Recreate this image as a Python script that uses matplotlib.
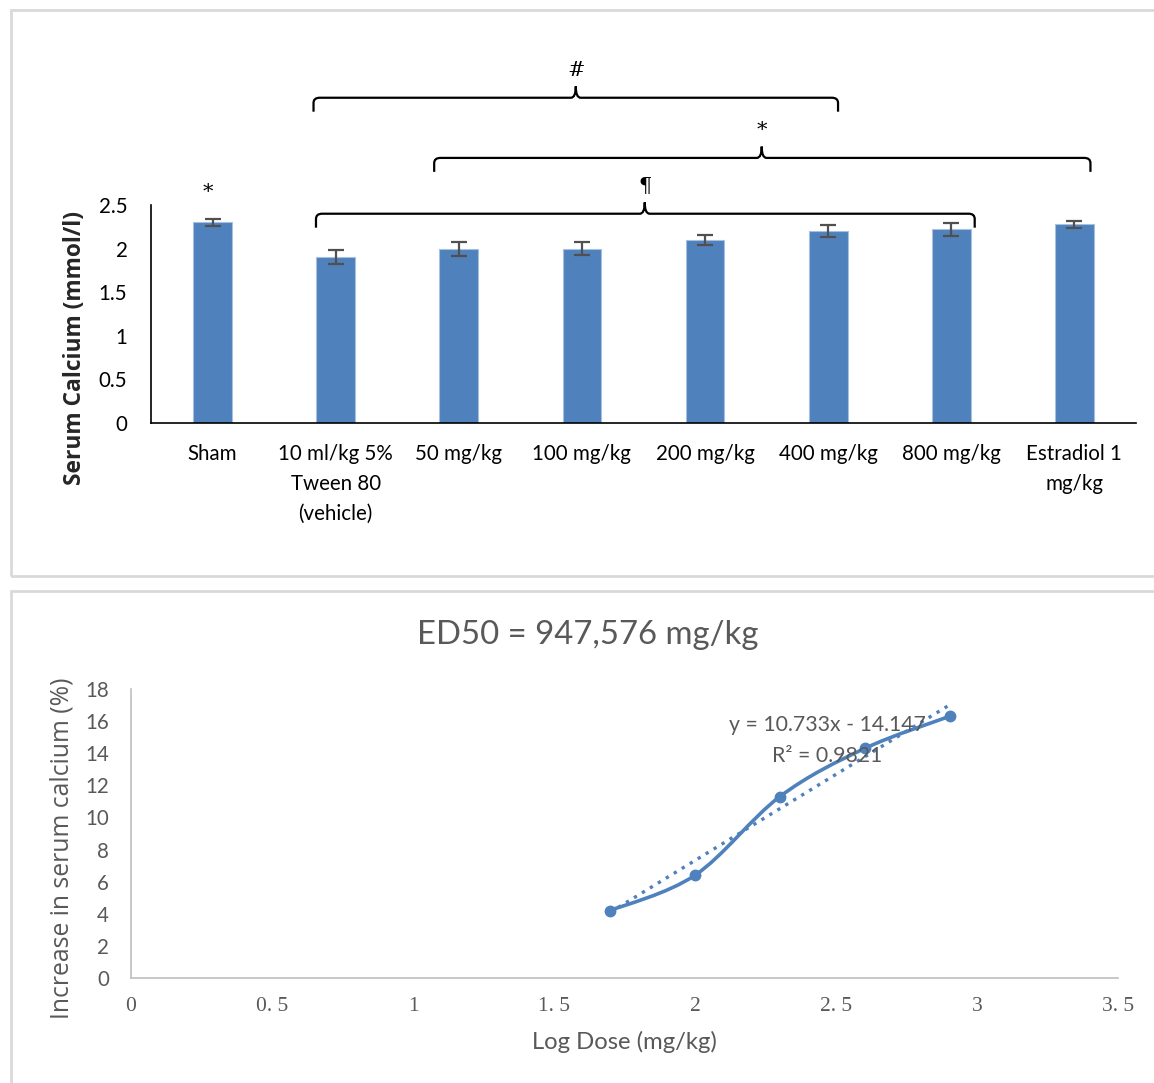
import numpy as np
import matplotlib
matplotlib.use("Agg")
import matplotlib.pyplot as plt
from matplotlib.path import Path
from matplotlib.patches import PathPatch, Rectangle

plt.rcParams['font.family'] = ['Lato', 'DejaVu Sans']

# ---- serum calcium by group ----
groups = ["Sham", "10 ml/kg 5%\nTween 80\n(vehicle)", "50 mg/kg", "100 mg/kg",
          "200 mg/kg", "400 mg/kg", "800 mg/kg", "Estradiol 1\nmg/kg"]
calcium = [2.30, 1.90, 2.00, 2.00, 2.10, 2.20, 2.22, 2.28]
calcium_err = [0.04, 0.08, 0.08, 0.07, 0.06, 0.07, 0.075, 0.04]
y_ticks_top = [0, 0.5, 1, 1.5, 2, 2.5]

# significance braces: (start group pos, end group pos, tip pos, line level, mark)
braces = [
    (0.82, 5.08, 2.95, 3.73, "#"),
    (1.80, 7.13, 4.46, 3.04, "*"),
    (0.84, 6.19, 3.51, 2.40, "\u00b6"),
]
sham_mark = "*"

# ---- dose-response ----
log_dose = [1.699, 2.000, 2.301, 2.602, 2.903]
increase = [4.2, 6.4, 11.3, 14.3, 16.3]
slope, intercept, r2 = 10.733, -14.147, 0.9821
x_ticks_bot = [0, 0.5, 1, 1.5, 2, 2.5, 3, 3.5]
x_ticklabels_bot = ["0", "0. 5", "1", "1. 5", "2", "2. 5", "3", "3. 5"]
y_ticks_bot = list(range(0, 19, 2))

BLUE = "#4f81bd"
GREY = "#595959"

W, H = 1154, 1083
fig = plt.figure(figsize=(W / 100, H / 100), dpi=100)

# panel frames
for (x0, y0, x1, y1) in [(11, 10, 1160, 576), (11, 591, 1160, 1090)]:
    fig.patches.append(Rectangle((x0 / W, 1 - y1 / H), (x1 - x0) / W, (y1 - y0) / H,
                                 transform=fig.transFigure, fill=False,
                                 edgecolor="#d9d9d9", linewidth=2))

# ================= bar chart =================
ax = fig.add_axes([151 / W, 1 - 423 / H, (1136 - 151) / W, (423 - 205) / H])
xpos = np.arange(len(groups))
ax.bar(xpos, calcium, width=0.315, color=BLUE, edgecolor="#a7c0de", linewidth=0.8, zorder=2)
ax.errorbar(xpos, calcium, yerr=calcium_err, fmt="none", ecolor="#505050",
            elinewidth=1.6, capsize=5.5, capthick=1.6, zorder=3)
ax.set_xlim(-0.5, len(groups) - 0.5)
ax.set_ylim(0, 2.5)
ax.set_yticks(y_ticks_top)
ax.set_yticklabels([f"{v:g}" for v in y_ticks_top])
ax.set_xticks(xpos)
ax.set_xticklabels(groups, linespacing=1.62)
ax.tick_params(axis="both", length=0, labelsize=14.8, colors="black")
ax.tick_params(axis="y", pad=17)
ax.tick_params(axis="x", pad=15)
for s in ["top", "right"]:
    ax.spines[s].set_visible(False)
for s in ["left", "bottom"]:
    ax.spines[s].set_color("black")
    ax.spines[s].set_linewidth(1.2)
fig.text(75 / W, 1 - 348 / H, "Serum Calcium (mmol/l)", rotation=90, ha="center",
         va="center", fontsize=16.4, fontweight="bold", color="#262626",
         family=["Open Sans", "DejaVu Sans"])


def draw_brace(axis, x0, x1, xt, y, mark):
    drop = 0.16
    up = 0.13
    r = 0.05
    ry = 0.06
    verts = [
        (x0, y - drop), (x0, y - ry), (x0, y), (x0 + r, y),
        (xt - 0.04, y), (xt, y), (xt, y + up),
        (xt, y), (xt + 0.04, y),
        (x1 - r, y), (x1, y), (x1, y - ry), (x1, y - drop),
    ]
    codes = [Path.MOVETO, Path.LINETO, Path.CURVE3, Path.CURVE3,
             Path.LINETO, Path.CURVE3, Path.CURVE3,
             Path.CURVE3, Path.CURVE3,
             Path.LINETO, Path.CURVE3, Path.CURVE3, Path.LINETO]
    axis.add_patch(PathPatch(Path(verts, codes), fill=False, edgecolor="black",
                             linewidth=1.6, clip_on=False, zorder=4))
    axis.text(xt, y + up + 0.07, mark, ha="center", va="bottom", fontsize=15,
              family=["DejaVu Serif"], clip_on=False)


for x0, x1, xt, y, mark in braces:
    draw_brace(ax, x0, x1, xt, y, mark)
ax.text(-0.04, calcium[0] + 0.34, sham_mark, ha="center", va="center", fontsize=15,
        family=["DejaVu Serif"], clip_on=False)

# ================= dose-response chart =================
bx = fig.add_axes([131 / W, 1 - 978 / H, (1118 - 131) / W, (978 - 689) / H])
bx.set_xlim(0, 3.5)
bx.set_ylim(0, 18)
bx.set_xticks(x_ticks_bot)
bx.set_xticklabels(x_ticklabels_bot, family=["Liberation Serif"], fontsize=15.5)
bx.set_yticks(y_ticks_bot)
bx.tick_params(axis="both", length=0, colors=GREY)
bx.tick_params(axis="y", labelsize=14.8, pad=16)
bx.tick_params(axis="x", pad=14)
for s in ["top", "right"]:
    bx.spines[s].set_visible(False)
for s in ["left", "bottom"]:
    bx.spines[s].set_color("#bfbfbf")
    bx.spines[s].set_linewidth(1.2)

# smoothed connecting line (cubic Bezier through the points)
px = np.array(log_dose)
py = np.array(increase)
n = len(px)
verts = [(px[0], py[0])]
codes = [Path.MOVETO]
for i in range(n - 1):
    p_prev = np.array([px[max(i - 1, 0)], py[max(i - 1, 0)]])
    p0 = np.array([px[i], py[i]])
    p1 = np.array([px[i + 1], py[i + 1]])
    p_next = np.array([px[min(i + 2, n - 1)], py[min(i + 2, n - 1)]])
    c1 = p0 + (p1 - p_prev) / 6
    c2 = p1 - (p_next - p0) / 6
    verts += [tuple(c1), tuple(c2), tuple(p1)]
    codes += [Path.CURVE4] * 3
bx.add_patch(PathPatch(Path(verts, codes), fill=False, edgecolor=BLUE, linewidth=2.6,
                       capstyle="round", zorder=3))
bx.plot(px, py, "o", color=BLUE, markersize=7.5, zorder=4)

# linear trendline
tx = np.array([px[0], px[-1]])
bx.plot(tx, slope * tx + intercept, linestyle=(0, (1, 1.8)), color=BLUE, linewidth=2.4,
        zorder=2)
bx.text(2.47, 14.8, f"y = {slope}x - {abs(intercept)}\nR\u00b2 = {r2}", ha="center",
        va="center", fontsize=15.3, color=GREY, linespacing=1.65, zorder=5)

fig.text(588 / W, 1 - 635 / H, "ED50 = 947,576 mg/kg", ha="center", va="center",
         fontsize=23.7, color=GREY)
fig.text(624 / W, 1 - 1042 / H, "Log Dose (mg/kg)", ha="center", va="center",
         fontsize=17.2, color=GREY)
fig.text(62 / W, 1 - 848 / H, "Increase in serum calcium (%)", rotation=90, ha="center",
         va="center", fontsize=17.8, color=GREY, family=["Open Sans", "DejaVu Sans"])

fig.savefig("out.png", dpi=100)
